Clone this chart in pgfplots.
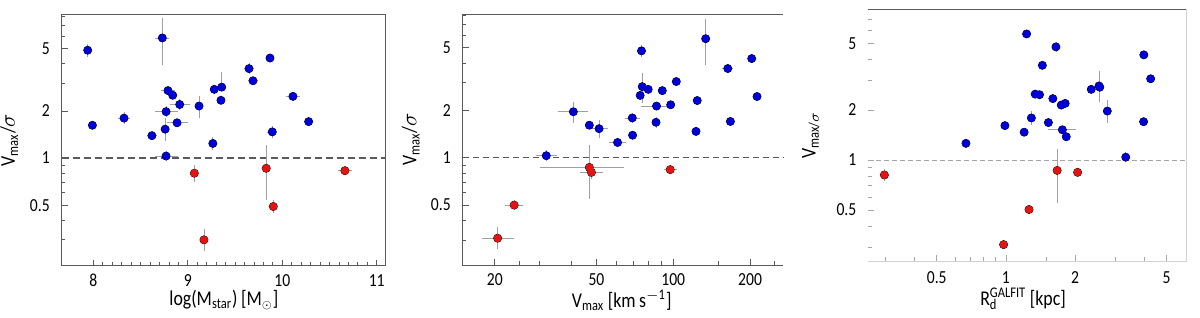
\documentclass[border=0pt]{standalone}
\usepackage{pgfplots}
\pgfplotsset{compat=1.18}
\usepackage{pgfplotstable}
\usepackage{fontspec}
\setmainfont{Carlito}[FakeStretch=0.85]
\definecolor{ptblue}{RGB}{0,0,215}
\definecolor{ptred}{RGB}{228,20,20}
\definecolor{errgray}{RGB}{160,160,160}
\definecolor{framegray}{RGB}{90,90,90}

% columns: x y xerr+ xerr- yerr+ yerr-
\pgfplotstableread{
x y exp exm eyp eym
7.94 4.89 0.02 0.02 0.30 0.30
8.73 5.86 0.053 0.053 1.74 1.78
7.99 1.62 0.02 0.02 0.05 0.05
8.325 1.80 0.04 0.04 0.10 0.10
8.62 1.39 0.03 0.03 0.05 0.05
8.76 1.53 0.02 0.02 0.21 0.20
8.77 1.98 0.10 0.10 0.10 0.10
8.79 2.70 0.05 0.05 0.05 0.05
8.84 2.52 0.02 0.02 0.05 0.05
8.914 2.20 0.085 0.085 0.10 0.10
8.886 1.68 0.09 0.09 0.05 0.05
9.119 2.15 0.02 0.02 0.27 0.28
9.265 1.24 0.02 0.02 0.08 0.08
9.28 2.75 0.02 0.02 0.05 0.05
9.359 2.84 0.02 0.02 0.59 0.05
9.351 2.34 0.02 0.02 0.05 0.05
9.648 3.73 0.03 0.03 0.20 0.20
9.69 3.12 0.03 0.03 0.10 0.10
9.87 4.36 0.02 0.02 0.10 0.10
9.894 1.47 0.03 0.03 0.08 0.08
10.113 2.48 0.05 0.05 0.08 0.08
10.279 1.71 0.02 0.02 0.05 0.05
8.77 1.03 0.10 0.10 0.05 0.05
}\massblue
\pgfplotstableread{
x y exp exm eyp eym
9.069 0.80 0.02 0.02 0.073 0.075
9.171 0.30 0.02 0.02 0.043 0.038
9.83 0.86 0.02 0.02 0.31 0.304
9.905 0.49 0.02 0.02 0.03 0.03
10.663 0.83 0.05 0.05 0.03 0.03
}\massred
\pgfplotstableread{
x y exp exm eyp eym
40.6 1.96 5.1 4.6 0.24 0.26
46.9 1.61 0.8 0.8 0.04 0.04
51.2 1.53 3.3 3.1 0.16 0.16
60.5 1.25 3.9 3.7 0.04 0.04
69.3 1.39 0.8 0.8 0.04 0.04
69.1 1.79 3.7 3.5 0.08 0.08
75.1 4.78 0.8 0.8 0.25 0.25
75.6 2.83 0.8 0.8 0.54 0.52
74.2 2.49 0.8 0.8 0.05 0.05
79.8 2.72 0.8 0.8 0.05 0.05
90.6 2.67 0.8 0.8 0.05 0.05
86.0 2.13 10.8 9.6 0.05 0.05
85.6 1.68 0.8 0.8 0.08 0.08
97.7 2.17 0.8 0.8 0.05 0.05
102.8 3.05 0.8 0.8 0.05 0.05
122.8 1.47 0.8 0.8 0.05 0.05
124.2 2.31 0.8 0.8 0.05 0.05
134.0 5.71 0.8 0.8 1.68 1.72
163.6 3.69 5.0 5.0 0.08 0.08
167.5 1.70 0.8 0.8 0.05 0.05
203.0 4.27 0.8 0.8 0.05 0.05
213.0 2.45 0.8 0.8 0.05 0.05
31.8 1.03 2.5 2.4 0.05 0.05
}\velblue
\pgfplotstableread{
x y exp exm eyp eym
20.5 0.308 2.8 2.4 0.042 0.038
23.8 0.50 1.5 1.4 0.02 0.02
46.9 0.868 15.9 16.3 0.31 0.305
47.8 0.807 4.1 3.8 0.05 0.05
97.3 0.84 4.0 3.8 0.03 0.03
}\velred
\pgfplotstableread{
x y exp exm eyp eym
1.23 5.73 0.03 0.03 0.05 0.05
1.65 4.79 0.02 0.02 0.20 0.20
1.44 3.71 0.02 0.02 0.05 0.05
1.34 2.49 0.02 0.02 0.05 0.05
1.40 2.47 0.02 0.02 0.05 0.05
1.60 2.34 0.02 0.02 0.05 0.05
1.74 2.14 0.02 0.02 0.05 0.05
1.81 2.19 0.02 0.02 0.05 0.05
1.29 1.79 0.02 0.02 0.13 0.13
0.99 1.61 0.02 0.02 0.04 0.04
1.20 1.47 0.02 0.02 0.04 0.04
1.53 1.68 0.02 0.02 0.04 0.04
1.76 1.52 0.22 0.20 0.04 0.04
1.83 1.38 0.02 0.02 0.04 0.04
0.67 1.26 0.01 0.01 0.04 0.04
2.35 2.66 0.02 0.02 0.05 0.05
2.54 2.79 0.02 0.02 0.56 0.49
2.76 1.97 0.02 0.02 0.26 0.25
3.32 1.04 0.02 0.02 0.04 0.04
3.98 4.29 0.02 0.02 0.10 0.10
4.26 3.08 0.02 0.02 0.05 0.05
3.97 1.70 0.02 0.02 0.05 0.05
2.56 2.74 0.02 0.02 0.05 0.05
}\radblue
\pgfplotstableread{
x y exp exm eyp eym
0.296 0.813 0.005 0.005 0.04 0.04
0.977 0.31 0.01 0.01 0.01 0.01
1.26 0.504 0.01 0.01 0.02 0.02
1.67 0.866 0.01 0.01 0.26 0.30
2.05 0.843 0.01 0.01 0.02 0.02
}\radred

\pgfplotsset{
  mypanel/.style={
    scale only axis,
    anchor=south west,
    tick pos=left,
    tick align=inside,
    major tick length=3pt,
    minor tick length=1.8pt,
    every tick/.style={framegray, line width=0.4pt},
    ytick={0.5,1,2,5},
    yticklabels={0.5,1,2,5},
    minor ytick={0.3,0.4,0.6,0.7,0.8,0.9,3,4,6,7,8},
    tick label style={font=\fontsize{9.2}{10}\selectfont},
    yticklabel style={anchor=east, inner sep=0pt, xshift=-5.8pt},
    xticklabel style={anchor=base, inner sep=0pt, yshift=-10.2pt},
    label style={font=\fontsize{10.5}{12}\selectfont, inner sep=0pt},
    ylabel style={at={(rel axis cs:-0.162,0.5)}, anchor=center},
    axis line style={draw=none},
    clip=false,
  },
  myerrs/.style={
    only marks, mark=none, forget plot,
    error bars/x dir=both, error bars/x explicit,
    error bars/y dir=both, error bars/y explicit,
    error bars/error bar style={errgray, line width=0.35pt},
    error bars/error mark options={errgray, mark size=1pt, line width=0.35pt},
  },
  mypts/.style={only marks, color=#1, mark=*, mark size=1.8pt, mark options={solid, draw=none, fill=#1}},
}

\begin{document}
\begin{tikzpicture}
% ---------- panel 1 ----------
\begin{axis}[mypanel, ymode=log,
  at={(30.85pt,25.65pt)}, width=162.15pt, height=125.7pt,
  xmin=7.665, xmax=11.098, ymin=0.205, ymax=8.3,
  xtick={8,9,10,11}, xticklabels={8,9,10,11},
  minor x tick num=9,
  xlabel={log(M\textsubscript{star})\,[M\textsubscript{\scalebox{0.8}{$\odot$}}]},
  xlabel style={at={(rel axis cs:0.5,-0.158)}, anchor=base},
  ylabel={V\textsubscript{max}/$\sigma$},
]
\addplot[framegray, line width=0.8pt, dash pattern=on 3.5pt off 2pt] coordinates {(7.665,1) (11.098,1)};
\addplot[myerrs] table[x=x,y=y,x error plus=exp,x error minus=exm,y error plus=eyp,y error minus=eym]{\massblue};
\addplot[myerrs] table[x=x,y=y,x error plus=exp,x error minus=exm,y error plus=eyp,y error minus=eym]{\massred};
\addplot[mypts=ptblue] table[x=x,y=y]{\massblue};
\addplot[mypts=ptred] table[x=x,y=y]{\massred};
\draw[framegray, line width=0.5pt] (rel axis cs:0,0) rectangle (rel axis cs:1,1);
\end{axis}
% ---------- panel 2 ----------
\begin{axis}[mypanel, xmode=log, ymode=log,
  at={(231.35pt,26pt)}, width=160.3pt, height=125.35pt,
  xmin=14.96, xmax=270, ymin=0.208, ymax=8.16,
  xtick={20,50,100,200}, xticklabels={20,50,100,200},
  minor xtick={25,30,40,60,70,80,90,150,250},
  xlabel={V\textsubscript{max}\,[km\,s\textsuperscript{$-$1}]},
  xlabel style={at={(rel axis cs:0.496,-0.168)}, anchor=base},
  ylabel={V\textsubscript{max}/$\sigma$},
]
\addplot[framegray, line width=0.5pt, dash pattern=on 3pt off 2pt] coordinates {(14.96,1) (270,1)};
\addplot[myerrs] table[x=x,y=y,x error plus=exp,x error minus=exm,y error plus=eyp,y error minus=eym]{\velblue};
\addplot[myerrs] table[x=x,y=y,x error plus=exp,x error minus=exm,y error plus=eyp,y error minus=eym]{\velred};
\addplot[mypts=ptblue] table[x=x,y=y]{\velblue};
\addplot[mypts=ptred] table[x=x,y=y]{\velred};
\draw[framegray, line width=0.5pt] (rel axis cs:1,1) -- (rel axis cs:0,1) -- (rel axis cs:0,0) -- (rel axis cs:1,0);
\end{axis}
% ---------- panel 3 ----------
\begin{axis}[mypanel, xmode=log, ymode=log,
  at={(434.15pt,28pt)}, width=158.85pt, height=125.85pt,
  xmin=0.252, xmax=6.07, ymin=0.247, ymax=8.06,
  xtick={0.5,1,2,5}, xticklabels={0.5,1,2,5},
  minor xtick={0.3,0.4,0.6,0.7,0.8,0.9,1.5,3,4},
  every tick/.style={gray!70, line width=0.4pt},
  xticklabel style={yshift=-1.0pt},
  xlabel={R\rlap{\textsubscript{d}}\textsuperscript{GALFIT}\,[kpc]},
  xlabel style={at={(rel axis cs:0.487,-0.178)}, anchor=base},
  ylabel={V\textsubscript{max/$\sigma$}},
  ylabel style={at={(rel axis cs:-0.181,0.5)}},
]
\addplot[gray!70, line width=0.4pt, dash pattern=on 2.5pt off 1.5pt] coordinates {(0.252,1) (6.07,1)};
\addplot[myerrs] table[x=x,y=y,x error plus=exp,x error minus=exm,y error plus=eyp,y error minus=eym]{\radblue};
\addplot[myerrs] table[x=x,y=y,x error plus=exp,x error minus=exm,y error plus=eyp,y error minus=eym]{\radred};
\addplot[mypts=ptblue] table[x=x,y=y]{\radblue};
\addplot[mypts=ptred] table[x=x,y=y]{\radred};
\draw[gray!35, line width=0.4pt] (rel axis cs:0,0) -- (rel axis cs:1,0) -- (rel axis cs:1,1);
\draw[framegray, line width=0.5pt] (rel axis cs:0,1) -- (rel axis cs:1,1);
\end{axis}
\pgfresetboundingbox
\useasboundingbox (0,0) rectangle (600pt,158.5pt);
\end{tikzpicture}
\end{document}
